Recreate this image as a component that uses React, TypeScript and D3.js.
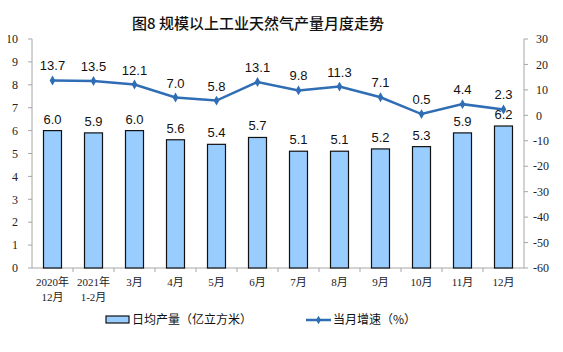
import React, { useEffect, useRef } from 'react';
import * as d3 from 'd3';

const months = ['2020年\n12月', '2021年\n1-2月', '3月', '4月', '5月', '6月', '7月', '8月', '9月', '10月', '11月', '12月'];
const dailyOutput = [6.0, 5.9, 6.0, 5.6, 5.4, 5.7, 5.1, 5.1, 5.2, 5.3, 5.9, 6.2];
const growth = [13.7, 13.5, 12.1, 7.0, 5.8, 13.1, 9.8, 11.3, 7.1, 0.5, 4.4, 2.3];
const leftTicks = [0, 1, 2, 3, 4, 5, 6, 7, 8, 9, 10];
const rightTicks = [-60, -50, -40, -30, -20, -10, 0, 10, 20, 30];

const App: React.FC = () => {
  const ref = useRef<SVGSVGElement | null>(null);

  useEffect(() => {
    const svg = d3.select(ref.current);
    svg.selectAll('*').remove();

    const left = 32, right = 524, top = 39, bottom = 268;
    const serif = '"Liberation Serif", "Noto Sans CJK SC", serif';
    const sans = '"Liberation Sans", Arial, "Noto Sans CJK SC", sans-serif';
    const cjk = '"Noto Sans CJK SC", sans-serif';
    const lineColor = '#2F6DB5';
    const axisColor = '#A6A6A6';

    const x = d3.scaleBand().domain(months).range([left, right]);
    const yL = d3.scaleLinear().domain([0, 10]).range([bottom, top]);
    const yR = d3.scaleLinear().domain([-60, 30]).range([bottom, top]);

    svg.append('rect').attr('width', 563).attr('height', 352).attr('fill', '#fff');

    svg.append('text')
      .attr('x', 258).attr('y', 29)
      .attr('text-anchor', 'middle')
      .style('font-family', cjk).style('font-size', '15px').style('font-weight', 500)
      .attr('fill', '#111')
      .text('图8  规模以上工业天然气产量月度走势');

    // left axis
    svg.append('line').attr('x1', left).attr('x2', left).attr('y1', top).attr('y2', bottom).attr('stroke', axisColor);
    leftTicks.forEach(t => {
      svg.append('line').attr('x1', left - 4).attr('x2', left).attr('y1', yL(t)).attr('y2', yL(t)).attr('stroke', axisColor);
      svg.append('text').attr('x', 18).attr('y', yL(t)).attr('dy', '0.35em').attr('text-anchor', 'end')
        .style('font-family', serif).style('font-size', '12px').attr('fill', '#222').text(t);
    });

    // right axis
    svg.append('line').attr('x1', right).attr('x2', right).attr('y1', top).attr('y2', bottom).attr('stroke', axisColor);
    rightTicks.forEach(t => {
      svg.append('line').attr('x1', right).attr('x2', right + 4).attr('y1', yR(t)).attr('y2', yR(t)).attr('stroke', axisColor);
      svg.append('text').attr('x', t < 0 ? 533 : 536).attr('y', yR(t)).attr('dy', '0.35em').attr('text-anchor', 'start')
        .style('font-family', serif).style('font-size', '12px').attr('fill', '#222').text(t);
    });

    // x axis
    svg.append('line').attr('x1', left).attr('x2', right).attr('y1', bottom).attr('y2', bottom).attr('stroke', axisColor);
    months.forEach((m, i) => {
      const xx = (x(m) as number) + x.bandwidth();
      if (i < months.length - 1) {
        svg.append('line').attr('x1', xx).attr('x2', xx).attr('y1', bottom).attr('y2', bottom + 4).attr('stroke', axisColor);
      }
      const lines = m.split('\n');
      lines.forEach((ln, j) => {
        svg.append('text')
          .attr('x', (x(m) as number) + x.bandwidth() / 2)
          .attr('y', 286 + j * 15)
          .attr('text-anchor', 'middle')
          .style('font-family', serif).style('font-size', '11px').attr('fill', '#222')
          .text(ln);
      });
    });

    // bars
    const bw = 18;
    months.forEach((m, i) => {
      const cx = (x(m) as number) + x.bandwidth() / 2;
      svg.append('rect')
        .attr('x', cx - bw / 2).attr('y', yL(dailyOutput[i]))
        .attr('width', bw).attr('height', bottom - yL(dailyOutput[i]))
        .attr('fill', '#99CCFF').attr('stroke', '#111').attr('stroke-width', 1.2);
      svg.append('text')
        .attr('x', cx).attr('y', yL(dailyOutput[i]) - 7)
        .attr('text-anchor', 'middle')
        .style('font-family', sans).style('font-size', '13px').attr('fill', '#111')
        .text(dailyOutput[i].toFixed(1));
    });

    // line
    const line = d3.line<number>()
      .x((_, i) => (x(months[i]) as number) + x.bandwidth() / 2)
      .y(d => yR(d));
    svg.append('path').datum(growth).attr('d', line).attr('fill', 'none')
      .attr('stroke', lineColor).attr('stroke-width', 2.5);
    growth.forEach((g, i) => {
      const cx = (x(months[i]) as number) + x.bandwidth() / 2;
      svg.append('path')
        .attr('d', d3.symbol(d3.symbolDiamond, 28)())
        .attr('transform', `translate(${cx},${yR(g)})`)
        .attr('fill', lineColor);
      svg.append('text')
        .attr('x', cx).attr('y', yR(g) - 10)
        .attr('text-anchor', 'middle')
        .style('font-family', sans).style('font-size', '13px').attr('fill', '#111')
        .text(g.toFixed(1));
    });

    // legend
    svg.append('rect').attr('x', 106).attr('y', 316).attr('width', 23).attr('height', 7)
      .attr('fill', '#99CCFF').attr('stroke', '#111').attr('stroke-width', 1.2);
    svg.append('text').attr('x', 132).attr('y', 324)
      .style('font-family', cjk).style('font-size', '12px').attr('fill', '#111')
      .text('日均产量（亿立方米）');
    svg.append('line').attr('x1', 306).attr('x2', 331).attr('y1', 320).attr('y2', 320)
      .attr('stroke', lineColor).attr('stroke-width', 2.5);
    svg.append('path').attr('d', d3.symbol(d3.symbolDiamond, 22)())
      .attr('transform', 'translate(318.5,320)').attr('fill', lineColor);
    svg.append('text').attr('x', 333).attr('y', 324)
      .style('font-family', cjk).style('font-size', '12px').attr('fill', '#111')
      .text('当月增速（%）');
  }, []);

  return (
    <div style={{ margin: -8 }}>
      <svg ref={ref} width={563} height={352} style={{ display: 'block' }}></svg>
    </div>
  );
};

export default App;
